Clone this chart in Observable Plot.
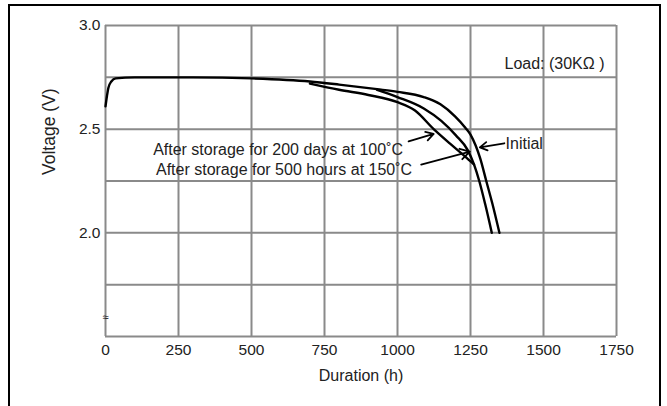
<!DOCTYPE html>
<html>
<head>
<meta charset="utf-8">
<script src="https://cdn.jsdelivr.net/npm/d3@7"></script>
<script src="https://cdn.jsdelivr.net/npm/@observablehq/plot@0.6"></script>
<style>
  html, body { margin: 0; padding: 0; background: #fff; }
  #wrap { position: relative; width: 667px; height: 406px; overflow: hidden; }
  #border { position: absolute; left: 8px; top: 4px; width: 649px; height: 420px; border: 2px solid #000; pointer-events: none; }
</style>
</head>
<body>
<div id="wrap"><div id="border"></div></div>
<script>
// ---- data ----
const xTicks = [0, 250, 500, 750, 1000, 1250, 1500, 1750];
const yGrid = [1.5, 1.75, 2.0, 2.25, 2.5, 2.75, 3.0];
const yLabels = [2.0, 2.5, 3.0];

const initialHours = [0, 5, 10, 20, 35, 100, 300, 500, 700, 800, 930, 1000, 1090, 1147, 1197, 1233, 1250, 1268, 1283, 1304, 1325, 1349];
const initialVolts = [2.61, 2.66, 2.70, 2.73, 2.745, 2.75, 2.75, 2.745, 2.73, 2.715, 2.693, 2.68, 2.655, 2.62, 2.562, 2.506, 2.474, 2.42, 2.36, 2.25, 2.14, 2.0];

const days200Hours = [930, 1000, 1090, 1150, 1200, 1240, 1262, 1280, 1300, 1323];
const days200Volts = [2.69, 2.655, 2.60, 2.54, 2.47, 2.40, 2.33, 2.25, 2.14, 2.0];

const hours500Hours = [700, 800, 900, 1000, 1060, 1124, 1180, 1230, 1262];
const hours500Volts = [2.72, 2.69, 2.665, 2.63, 2.59, 2.50, 2.43, 2.37, 2.33];

const arrowX1 = [1038, 1081, 1366];
const arrowY1 = [2.441, 2.329, 2.432];
const arrowX2 = [1124, 1248, 1282];
const arrowY2 = [2.477, 2.392, 2.412];

const labelTexts = ["After storage for 200 days at 100˚C", "After storage for 500 hours at 150˚C"];
const labelX = [1019, 1050];
const labelY = [2.401, 2.303];

// ---- build ----
const toPts = (xs, ys) => xs.map((x, i) => ({x, y: ys[i]}));
const initial = toPts(initialHours, initialVolts);
const d200 = toPts(days200Hours, days200Volts);
const h500 = toPts(hours500Hours, hours500Volts);
const arrows = arrowX1.map((x, i) => ({x1: x, y1: arrowY1[i], x2: arrowX2[i], y2: arrowY2[i]}));
const labels = labelTexts.map((t, i) => ({t, x: labelX[i], y: labelY[i]}));

const font = "'Liberation Sans', Arial, sans-serif";
const grid = "#8a8a8a";
const lineStyle = {x: "x", y: "y", stroke: "#000", strokeWidth: 2.4, curve: "monotone-x"};

const chart = Plot.plot({
  width: 667,
  height: 406,
  marginLeft: 105,
  marginRight: 51,
  marginTop: 25,
  marginBottom: 70,
  style: {fontFamily: font, fontSize: "15.5px", background: "transparent", color: "#222"},
  x: {domain: [0, 1750]},
  y: {domain: [1.5, 3.0]},
  marks: [
    Plot.ruleX(xTicks, {stroke: grid, strokeWidth: 2}),
    Plot.ruleY(yGrid, {stroke: grid, strokeWidth: 2}),
    Plot.axisX(xTicks, {tickSize: 0, tickPadding: 7, tickFormat: d3.format("d"), label: null, fill: "#222"}),
    Plot.axisY(yLabels, {tickSize: 0, tickPadding: 5, tickFormat: d3.format(".1f"), label: null, fill: "#222"}),
    Plot.text(["Duration (h)"], {frameAnchor: "bottom", dy: 44, fontSize: 16, fill: "#222"}),
    Plot.text(["Voltage (V)"], {frameAnchor: "left", dx: -56, dy: -6, rotate: -90, fontSize: 17.5, fill: "#222"}),
    Plot.line(initial, lineStyle),
    Plot.line(d200, lineStyle),
    Plot.line(h500, lineStyle),
    Plot.arrow(arrows, {x1: "x1", y1: "y1", x2: "x2", y2: "y2", stroke: "#000", strokeWidth: 1.8, headLength: 9}),
    Plot.text(labels, {x: "x", y: "y", text: "t", textAnchor: "end", fontSize: 16, fill: "#222"}),
    Plot.text(["Initial"], {x: 1370, y: 2.43, textAnchor: "start", fontSize: 16, fill: "#222"}),
    Plot.text(["Load: (30KΩ )"], {x: 1709, y: 2.817, textAnchor: "end", fontSize: 16, fill: "#222"}),
    Plot.text(["≈"], {x: 0, y: 1.59, fontSize: 11, fill: "#222"})
  ]
});
document.getElementById("wrap").prepend(chart);
</script>
</body>
</html>
